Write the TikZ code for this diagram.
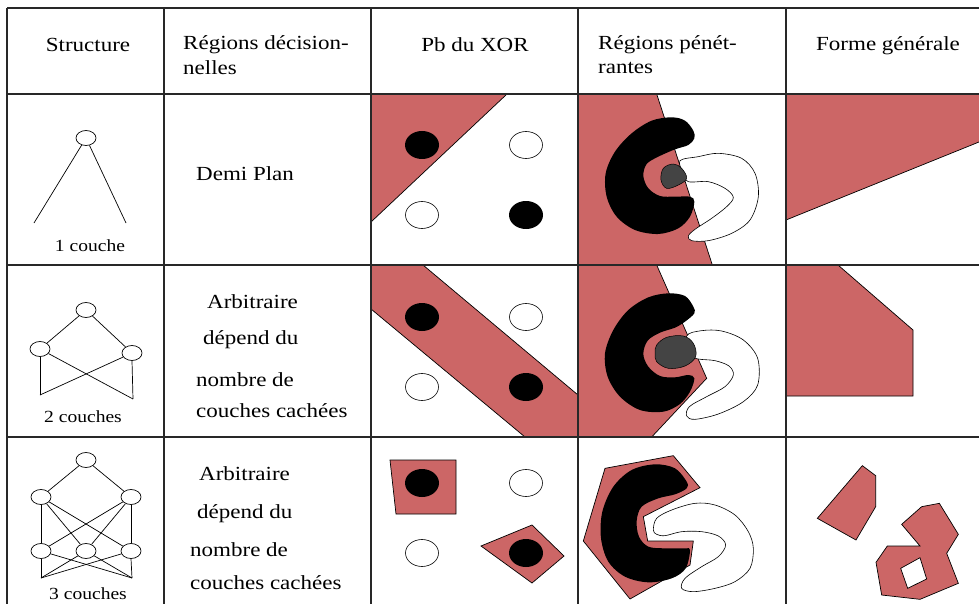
\documentclass[tikz,border=0pt]{standalone}
\usepackage{fontspec}
\setmainfont[FakeStretch=1.15]{Liberation Serif}
\usetikzlibrary{shapes.geometric}
\definecolor{rosy}{RGB}{204,102,102}
\definecolor{blob}{RGB}{68,68,68}
\definecolor{rule}{RGB}{40,40,40}
\begin{document}
\begin{tikzpicture}[x=1pt,y=-1pt,
  hdr/.style={font=\fontsize{20}{24}\selectfont, inner sep=0pt},
  layercap/.style={font=\fontsize{17}{20}\selectfont, inner sep=0pt},
  neuron/.style={draw, ellipse, minimum width=20pt, minimum height=15pt, inner sep=0pt, line width=0.7pt},
  wire/.style={line width=0.7pt},
  region/.style={fill=rosy},
  border/.style={draw=black, line width=0.7pt},
  dark/.style={fill=black},
  hollow/.style={draw=black, line width=0.6pt, fill=white},
  gridline/.style={draw=rule, line width=1.1pt}]
\useasboundingbox (0,0) rectangle (979,604);
\fill[white] (0,0) rectangle (979,604);

% ---------- header ----------
\node[hdr] (hStruct) at (88,45) {Structure};
\node[hdr, anchor=west] (hReg1) at (183,45) {Régions décision-};
\node[hdr, anchor=west] (hReg2) at (183,68) {nelles};
\node[hdr] (hXor) at (475,45) {Pb du XOR};
\node[hdr, anchor=west] (hPen1) at (598,45) {Régions pénét-};
\node[hdr, anchor=west] (hPen2) at (598,68) {rantes};
\node[hdr] (hForme) at (888,46) {Forme générale};

% ---------- structures ----------
% one layer
\node[neuron] (a1) at (86,138) {};
\coordinate (a1l) at (34,223);
\coordinate (a1r) at (126,223);
\draw[wire] (a1) -- (a1l);
\draw[wire] (a1) -- (a1r);
\node[layercap] (c1) at (90,246) {1 couche};

% two layers
\node[neuron] (b0) at (86,310) {};
\node[neuron] (bL) at (40,349) {};
\node[neuron] (bR) at (132,353) {};
\coordinate (bBL) at (40,395);
\coordinate (bBR) at (133,399);
\draw[wire] (b0) -- (bL);
\draw[wire] (b0) -- (bR);
\draw[wire] (bL.south) -- (bBL);
\draw[wire] (bR.south) -- (bBR);
\draw[wire] (bL) -- (bBR);
\draw[wire] (bR) -- (bBL);
\node[layercap] (c2) at (83,417) {2 couches};

% three layers
\node[neuron] (t0) at (86,460) {};
\node[neuron] (tML) at (41,497) {};
\node[neuron] (tMR) at (131,497) {};
\node[neuron] (tBL) at (41,551) {};
\node[neuron] (tBM) at (86,551) {};
\node[neuron] (tBR) at (131,551) {};
\coordinate (tOL) at (41,578);
\coordinate (tOR) at (132,578);
\draw[wire] (t0) -- (tML);
\draw[wire] (t0) -- (tMR);
\draw[wire] (tML.south) -- (tBL.north);
\draw[wire] (tMR.south) -- (tBR.north);
\draw[wire] (tML) -- (tBM);
\draw[wire] (tML) -- (tBR);
\draw[wire] (tMR) -- (tBM);
\draw[wire] (tMR) -- (tBL);
\draw[wire] (tBL.south) -- (tOL);
\draw[wire] (tBR.south) -- (tOR);
\draw[wire] (tBL) -- (tOR);
\draw[wire] (tBR) -- (tOL);
\draw[wire] (tBM) -- (tOL);
\draw[wire] (tBM) -- (tOR);
\node[layercap] (c3) at (88,594) {3 couches};

% ---------- decision regions text ----------
\node[hdr, anchor=west] (d1) at (196,174) {Demi Plan};
\node[hdr, anchor=west] (d2a) at (207,302) {Arbitraire};
\node[hdr, anchor=west] (d2b) at (203,340) {dépend du};
\node[hdr, anchor=west] (d2c) at (196,380) {nombre de};
\node[hdr, anchor=west] (d2d) at (196,411) {couches cachées};
\node[hdr, anchor=west] (d3a) at (199,474) {Arbitraire};
\node[hdr, anchor=west] (d3b) at (197,514) {dépend du};
\node[hdr, anchor=west] (d3c) at (190,550) {nombre de};
\node[hdr, anchor=west] (d3d) at (190,583) {couches cachées};

% ---------- XOR problem ----------
% half plane
\fill[region] (371,94) -- (507,94) -- (371,222) -- cycle;
\draw[wire] (507,94) -- (371,222);
\fill[dark] (422,145) ellipse [x radius=17, y radius=14];
\draw[hollow] (526,145) ellipse [x radius=16.5, y radius=13.5];
\draw[hollow] (422,215) ellipse [x radius=16.5, y radius=13.5];
\fill[dark] (526,215) ellipse [x radius=17, y radius=14];
% band
\fill[region] (371,265) -- (423,265) -- (578,395) -- (578,437) -- (525,437) -- (371,309) -- cycle;
\draw[wire] (423,265) -- (578,395);
\draw[wire] (525,437) -- (371,309);
\fill[dark] (422,317) ellipse [x radius=17, y radius=14];
\draw[hollow] (526,317) ellipse [x radius=16.5, y radius=13.5];
\draw[hollow] (422,387) ellipse [x radius=16.5, y radius=13.5];
\fill[dark] (526,387) ellipse [x radius=17, y radius=14];
% two islands
\filldraw[region, border] (390,460) -- (456,460) -- (456,514) -- (396,514) -- cycle;
\filldraw[region, border] (481,546) -- (532,525) -- (564,556) -- (532,583) -- cycle;
\fill[dark] (422,483) ellipse [x radius=17, y radius=14];
\draw[hollow] (526,483) ellipse [x radius=16.5, y radius=13.5];
\draw[hollow] (422,553) ellipse [x radius=16.5, y radius=13.5];
\fill[dark] (526,553) ellipse [x radius=17, y radius=14];

% ---------- interlocking regions ----------
\begin{scope}[shift={(575,90)}, scale=1/3]
  \fill[region] (9,12) -- (245,12) -- (412,525) -- (9,525) -- cycle;
  \draw[wire] (245,12) -- (412,525);
  \filldraw[hollow] plot[smooth cycle, tension=0.55] coordinates {
    (315,212) (370,200) (430,190) (500,205) (540,250) (550,320) (525,390)
    (470,430) (400,452) (350,452) (340,438) (360,418) (410,385) (455,350)
    (475,322) (450,295) (400,275) (340,275) (325,250)};
  \fill[black] plot[smooth cycle, tension=0.55] coordinates {
    (355,122) (330,92) (290,82) (230,92) (170,130) (120,185) (92,250)
    (95,320) (125,380) (180,420) (250,432) (310,415) (345,380) (358,335)
    (345,320) (300,320) (255,318) (220,295) (205,258) (215,222) (250,200)
    (300,178) (340,165) (358,145)};
  \filldraw[fill=blob, draw=black, line width=0.5pt] plot[smooth cycle, tension=0.6] coordinates {
    (265,235) (295,222) (320,235) (335,265) (310,285) (275,295) (258,270)};
\end{scope}

\begin{scope}[shift={(575,260)}, scale=1/3]
  \fill[region] (9,15) -- (245,15) -- (395,355) -- (230,531) -- (9,531) -- cycle;
  \draw[wire] (245,15) -- (395,355) -- (230,531);
  \filldraw[hollow] plot[smooth cycle, tension=0.55] coordinates {
    (335,228) (380,212) (440,213) (505,240) (548,295) (548,375) (505,425)
    (430,462) (360,478) (335,468) (343,440) (395,410) (450,380) (475,345)
    (462,318) (420,302) (370,297) (350,285)};
  \fill[black] plot[smooth cycle, tension=0.55] coordinates {
    (355,140) (330,108) (280,100) (220,112) (160,150) (115,210) (90,280)
    (98,350) (135,410) (195,450) (265,455) (315,432) (345,395) (358,355)
    (340,345) (300,352) (255,348) (220,320) (205,282) (218,242) (255,218)
    (300,203) (330,185) (358,160)};
  \filldraw[fill=blob, draw=black, line width=0.5pt] plot[smooth cycle, tension=0.6] coordinates {
    (245,255) (275,232) (325,228) (355,250) (362,290) (330,318) (280,325)
    (245,305) (240,280)};
\end{scope}

\begin{scope}[shift={(575,435)}, scale=1/3]
  \filldraw[region, border] (90,100) -- (295,62) -- (375,158) -- (205,245) -- (218,318)
    -- (355,318) -- (345,390) -- (165,492) -- (25,318) -- cycle;
  \fill[black] plot[smooth cycle, tension=0.55] coordinates {
    (335,140) (300,100) (240,88) (170,105) (115,155) (82,230) (78,310)
    (100,380) (150,425) (220,442) (290,430) (332,400) (345,345)
    (330,340) (270,340) (220,335) (192,305) (185,258) (200,215) (250,190)
    (300,178) (335,160)};
  \filldraw[hollow] plot[smooth cycle, tension=0.55] coordinates {
    (235,285) (245,250) (290,225) (360,205) (420,210) (480,240) (520,290)
    (535,340) (525,400) (480,440) (420,460) (355,470) (320,460) (330,430)
    (380,395) (430,365) (452,330) (430,303) (380,290) (320,290) (270,302)
    (245,298)};
\end{scope}

% ---------- general shape ----------
\fill[region] (786,94) -- (979,94) -- (979,142) -- (786,220) -- cycle;
\draw[wire] (979,142) -- (786,220);
\fill[region] (786,265) -- (838,265) -- (913,330) -- (913,396) -- (786,396) -- cycle;
\draw[wire] (838,265) -- (913,330) -- (913,396) -- (786,396);
\begin{scope}[shift={(780,435)}, scale=1/3]
  \filldraw[region, border] (112,250) -- (247,92) -- (287,122) -- (287,215) -- (228,315) -- cycle;
  \filldraw[region, border, even odd rule]
    (365,268) -- (425,215) -- (478,205) -- (535,298) -- (500,355) -- (535,445)
    -- (420,493) -- (305,480) -- (288,382) -- (322,333) -- (420,333) -- cycle
    (362,400) -- (420,368) -- (440,432) -- (383,460) -- cycle;
\end{scope}

% ---------- table rules ----------
\draw[gridline] (7,8) -- (979,8);
\draw[gridline] (7,94) -- (979,94);
\draw[gridline] (7,265) -- (979,265);
\draw[gridline] (7,437) -- (979,437);
\draw[gridline] (7,8) -- (7,604);
\draw[gridline] (164,8) -- (164,604);
\draw[gridline] (371,8) -- (371,604);
\draw[gridline] (578,8) -- (578,604);
\draw[gridline] (786,8) -- (786,604);
\end{tikzpicture}
\end{document}
